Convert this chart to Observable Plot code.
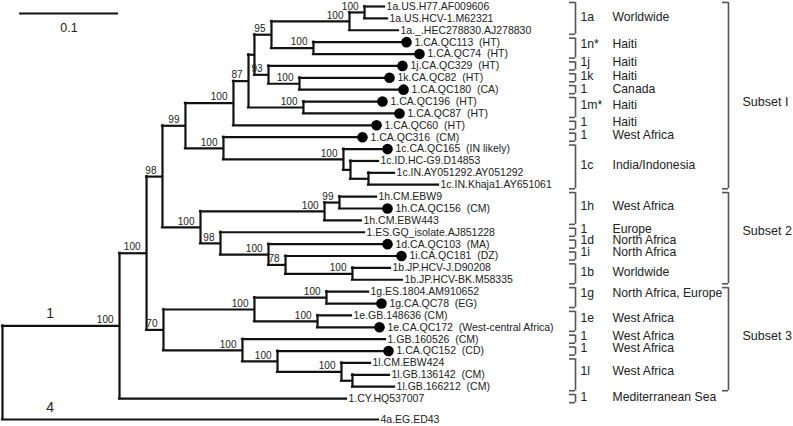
<!DOCTYPE html>
<html><head><meta charset="utf-8">
<script src="https://cdn.jsdelivr.net/npm/d3@7"></script>
<script src="https://cdn.jsdelivr.net/npm/@observablehq/plot@0.6"></script>
<style>
html,body{margin:0;padding:0;background:#fff;}
#chart svg{display:block;}
</style>
</head><body><div id="chart"></div>
<script>
// ---------- DATA ----------
// Leaves, top to bottom
const leafNames = [
  "1a.US.H77.AF009606","1a.US.HCV-1.M62321","1a._.HEC278830.AJ278830",
  "1.CA.QC113  (HT)","1.CA.QC74  (HT)","1j.CA.QC329  (HT)","1k.CA.QC82  (HT)",
  "1.CA.QC180  (CA)","1.CA.QC196  (HT)","1.CA.QC87  (HT)","1.CA.QC60  (HT)",
  "1.CA.QC316  (CM)","1c.CA.QC165  (IN likely)","1c.ID.HC-G9.D14853",
  "1c.IN.AY051292.AY051292","1c.IN.Khaja1.AY651061","1h.CM.EBW9",
  "1h.CA.QC156  (CM)","1h.CM.EBW443","1.ES.GQ_isolate.AJ851228",
  "1d.CA.QC103  (MA)","1i.CA.QC181  (DZ)","1b.JP.HCV-J.D90208",
  "1b.JP.HCV-BK.M58335","1g.ES.1804.AM910652","1g.CA.QC78  (EG)",
  "1e.GB.148636 (CM)","1e.CA.QC172  (West-central Africa)","1.GB.160526  (CM)",
  "1.CA.QC152  (CD)","1l.CM.EBW424","1l.GB.136142  (CM)","1l.GB.166212  (CM)",
  "1.CY.HQ537007","4a.EG.ED43"
];
// cumulative distance from the root (substitutions/site)
const leafDist = [
  0.3859,0.3889,0.4000,0.4081,0.4212,0.4040,0.3909,0.4051,0.3838,0.4010,0.3778,
  0.3636,0.3889,0.3798,0.3960,0.4404,0.3778,0.3889,0.3626,0.3657,0.3889,0.4030,
  0.3919,0.4040,0.3697,0.3828,0.3525,0.3808,0.3869,0.3899,0.3717,0.3909,0.3960,
  0.3475,0.3798
];
// Quebec (CA.QC) sequences marked with a black dot
const leafDot = [0,0,0,1,1,1,1,1,1,1,1,1,1,0,0,0,0,1,0,0,1,1,0,0,0,1,0,1,0,1,0,0,0,0,0];
const leafParent = [
  "A","A","B","N313","N313","N268","N299","N299","N303","N303","N233",
  "N223","N343","N350","N368","N368","N339","N339","N324","N220","N268b","N285",
  "N352","N352","N326","N326","N317","N317","N242","N277","N341","N352b","N352b",
  "G1","R"
];
const outgroupGap = 0.76; // extra row spacing before the genotype 4 outgroup

// Internal nodes
const nodeIds     = ["R","G1","N146","N98a","S1","N233","N248","N254","X271","B","A","N313","N268","N299","N303","N223","N343","N350","N368","S2","N324","N339","N220","N268b","N285","N352","N70","N254b","N326","N317","N242","N277","N341","N352b"];
const nodeParent  = [null,"R","G1","N146","N98a","S1","N233","N248","N254","X271","B","X271","N254","N268","N248","S1","N223","N343","N350","N98a","S2","N324","S2","N220","N268b","N285","N146","N70","N254b","N254b","N70","N242","N277","N341"];
const nodeDist    = [0,0.1182,0.1455,0.1616,0.1848,0.2333,0.2485,0.2545,0.2717,0.3505,0.3657,0.3141,0.2687,0.3000,0.3040,0.2232,0.3444,0.3515,0.3697,0.2000,0.3253,0.3404,0.2202,0.2687,0.2859,0.3535,0.1626,0.2545,0.3273,0.3182,0.2424,0.2778,0.3424,0.3535];
const nodeSupport = [null,100,100,98,99,100,87,null,95,100,100,100,93,100,100,100,100,null,null,100,100,99,98,100,78,100,70,100,100,100,100,100,100,null];

// Genotype labels on the root branches
const genoLabels = ["1","4"];
const genoNodes  = ["G1","4a.EG.ED43"];

// Clade annotations (leaf index ranges)
const groupSubtype = ["1a","1n*","1j","1k","1","1m*","1","1","1c","1h","1","1d","1i","1b","1g","1e","1","1","1l","1"];
const groupRegion  = ["Worldwide","Haiti","Haiti","Haiti","Canada","Haiti","Haiti","West Africa","India/Indonesia","West Africa","Europe","North Africa","North Africa","Worldwide","North Africa, Europe","West Africa","West Africa","West Africa","West Africa","Mediterranean Sea"];
const groupFirst   = [0,3,5,6,7,8,10,11,12,16,19,20,21,22,24,26,28,29,30,33];
const groupLast    = [2,4,5,6,7,9,10,11,15,18,19,20,21,23,25,27,28,29,32,33];
const groupLabelRow = [0.93,3.2,4.71,5.89,6.99,8.33,9.76,10.86,13.38,16.84,18.77,19.7,20.71,22.39,24.16,26.26,27.78,28.79,30.72,32.91];

const subsetNames = ["Subset I","Subset 2","Subset 3"];
const subsetFirst = [0,16,24];
const subsetLast  = [15,23,32];
const subsetLabelRow = [8.0,18.9,27.7];

const scaleBarLength = 0.1;

// ---------- BUILD TREE ----------
const nodes = new Map();
nodeIds.forEach((id, i) => nodes.set(id, {id, parent: nodeParent[i], dist: nodeDist[i], support: nodeSupport[i], children: [], leaf: false}));
const leaves = leafNames.map((name, i) => ({
  id: name, name, parent: leafParent[i], dist: leafDist[i], dot: !!leafDot[i],
  leaf: true, children: [], row: i + (leafParent[i] === "R" ? outgroupGap : 0)
}));
leaves.forEach(l => nodes.set(l.id, l));
for (const n of nodes.values()) if (n.parent) nodes.get(n.parent).children.push(n);
function rowOf(n) {
  if (n.leaf) return n.row;
  const rs = n.children.map(rowOf);
  n.minRow = Math.min(...rs); n.maxRow = Math.max(...rs);
  n.row = (n.minRow + n.maxRow) / 2;
  return n.row;
}
rowOf(nodes.get("R"));
const all = [...nodes.values()];
const hBranches = all.filter(n => n.parent).map(n => ({y: n.row, x1: nodes.get(n.parent).dist, x2: n.dist}));
const vBranches = all.filter(n => !n.leaf).map(n => ({x: n.dist, y1: n.minRow, y2: n.maxRow}));
const supports = all.filter(n => !n.leaf && n.support != null);
const geno = genoLabels.map((t, i) => ({text: t, row: nodes.get(genoNodes[i]).row}));

const pad = 0.34; // bracket overhang in rows
const groups = groupSubtype.map((s, i) => ({sub: s, region: groupRegion[i], top: groupFirst[i] - pad, bot: groupLast[i] + pad, mid: groupLabelRow[i]}));
const subsets = subsetNames.map((s, i) => ({name: s, top: subsetFirst[i] - pad, bot: subsetLast[i] + pad, mid: subsetLabelRow[i]}));

// layout positions for annotation columns (in distance units)
const bX = 0.5788, bTick = 0.5727, subX = 0.5838, regX = 0.6162;
const sX = 0.7333, sTick = 0.7273, sLabX = 0.7475;
const barX0 = 0.0172, barRow = 0.59, barLabRow = 1.85;
const genoX = 0.048;

const ink = "#111", bracketInk = "#555", textInk = "#222";
const font = "'Liberation Sans', Arial, Helvetica, sans-serif";

const chart = Plot.plot({
  width: 793, height: 426,
  marginTop: 0, marginBottom: 0, marginLeft: 0, marginRight: 0,
  x: {domain: [0, 0.8], range: [2, 794], axis: null},
  y: {domain: [0, 33 + 1 + outgroupGap], range: [6, 419], axis: null},
  style: {fontFamily: font, background: "#fff"},
  marks: [
    // scale bar
    Plot.ruleY([scaleBarLength], {y: () => barRow, x1: () => barX0, x2: d => barX0 + d, stroke: ink, strokeWidth: 2}),
    Plot.text([scaleBarLength], {x: d => barX0 + d / 2, y: () => barLabRow, text: d => String(d), fontSize: 12.5, fill: textInk}),
    // tree
    Plot.ruleY(hBranches, {y: "y", x1: "x1", x2: "x2", stroke: ink, strokeWidth: 2.2, strokeLinecap: "square"}),
    Plot.ruleX(vBranches, {x: "x", y1: "y1", y2: "y2", stroke: ink, strokeWidth: 2.2, strokeLinecap: "square"}),
    Plot.dot(leaves.filter(d => d.dot), {x: "dist", y: "row", r: 5.3, fill: "#000", stroke: null}),
    Plot.text(leaves.filter(d => !d.dot), {x: "dist", y: "row", text: "name", textAnchor: "start", dx: 2, fontSize: 10.5, fill: textInk}),
    Plot.text(leaves.filter(d => d.dot), {x: "dist", y: "row", text: "name", textAnchor: "start", dx: 8, fontSize: 10.5, fill: textInk}),
    Plot.text(supports, {x: "dist", y: "row", text: "support", textAnchor: "end", dx: -6, dy: -6, fontSize: 10, fill: textInk}),
    Plot.text(geno, {x: () => genoX, y: "row", text: "text", dy: -12, fontSize: 14, fill: textInk}),
    // clade brackets
    Plot.ruleX(groups, {x: () => bX, y1: "top", y2: "bot", stroke: bracketInk, strokeWidth: 1.6}),
    Plot.ruleY(groups, {y: "top", x1: () => bTick, x2: () => bX, stroke: bracketInk, strokeWidth: 1.6}),
    Plot.ruleY(groups, {y: "bot", x1: () => bTick, x2: () => bX, stroke: bracketInk, strokeWidth: 1.6}),
    Plot.text(groups, {x: () => subX, y: "mid", text: "sub", textAnchor: "start", fontSize: 12.2, fill: textInk}),
    Plot.text(groups, {x: () => regX, y: "mid", text: "region", textAnchor: "start", fontSize: 12.2, fill: textInk}),
    // subset brackets
    Plot.ruleX(subsets, {x: () => sX, y1: "top", y2: "bot", stroke: bracketInk, strokeWidth: 1.6}),
    Plot.ruleY(subsets, {y: "top", x1: () => sTick, x2: () => sX, stroke: bracketInk, strokeWidth: 1.6}),
    Plot.ruleY(subsets, {y: "bot", x1: () => sTick, x2: () => sX, stroke: bracketInk, strokeWidth: 1.6}),
    Plot.text(subsets, {x: () => sLabX, y: "mid", text: "name", textAnchor: "start", fontSize: 12.5, fill: textInk})
  ]
});
chart.querySelectorAll("text").forEach(t => t.setAttribute("xml:space", "preserve"));
chart.style.whiteSpace = "pre";
document.getElementById("chart").appendChild(chart);
</script>
</body></html>
